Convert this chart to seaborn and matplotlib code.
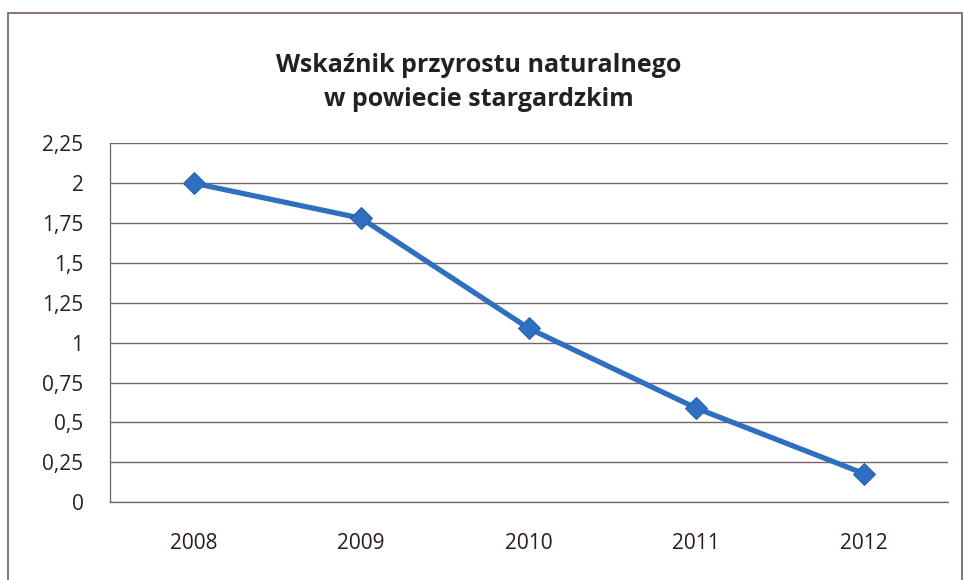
import matplotlib
matplotlib.use('Agg')
import matplotlib.pyplot as plt
import seaborn as sns
import pandas as pd
from matplotlib.patches import Rectangle

years = ['2008', '2009', '2010', '2011', '2012']
values = [2.0, 1.78, 1.09, 0.59, 0.18]
yticks = [0, 0.25, 0.5, 0.75, 1, 1.25, 1.5, 1.75, 2, 2.25]
title = 'Wskaźnik przyrostu naturalnego\nw powiecie stargardzkim'

sns.set_style('white')
plt.rcParams['font.family'] = ['Open Sans', 'DejaVu Sans']

df = pd.DataFrame({'pos': range(len(years)), 'val': values})

fig = plt.figure(figsize=(9.64, 5.8), dpi=100)
ax = fig.add_axes([0.114, 0.134, 0.869, 0.619])

# gridlines first so the line sits on top
for v in yticks:
    ax.axhline(v, color='#7a6466', lw=1.0, zorder=1)

sns.lineplot(data=df, x='pos', y='val', ax=ax, color='#2f6fbf', lw=3.8,
             marker='D', markersize=11, markeredgecolor='#2a62a8', zorder=3)

ax.set_xlim(-0.5, len(years) - 0.5)
ax.set_ylim(0, 2.25)
ax.set_xticks([i - 0.5 for i in range(len(years) + 1)], minor=False)
ax.set_xticklabels([''] * (len(years) + 1))
ax.set_xticks(range(len(years)), minor=True)
ax.set_xticklabels(years, minor=True)
ax.tick_params(axis='x', which='major', direction='out', length=7, width=0.9, color='#555555')
ax.tick_params(axis='x', which='minor', length=0, pad=22, labelsize=15, labelcolor='#2a1a1c')
ax.set_yticks(yticks)
ax.set_yticklabels([f'{v:g}'.replace('.', ',') for v in yticks])
ax.tick_params(axis='y', direction='out', length=7, width=0.9, color='#555555',
               labelsize=15, labelcolor='#222222', pad=12)
ax.set_xlabel('')
ax.set_ylabel('')

for s in ['top', 'right']:
    ax.spines[s].set_visible(False)
ax.spines['left'].set_color('#666666')
ax.spines['bottom'].set_color('#666666')
ax.spines['left'].set_linewidth(0.9)
ax.spines['bottom'].set_linewidth(0.9)

fig.text(0.497, 0.858, title, ha='center', va='center', fontsize=18,
         fontweight='bold', color='#222222', linespacing=1.45)

# outer chart border
fig.add_artist(Rectangle((0.008, -0.02), 0.99, 0.998, transform=fig.transFigure,
                         fill=False, edgecolor='#7a5a5e', lw=1.2))

fig.savefig('out.png', dpi=100)
